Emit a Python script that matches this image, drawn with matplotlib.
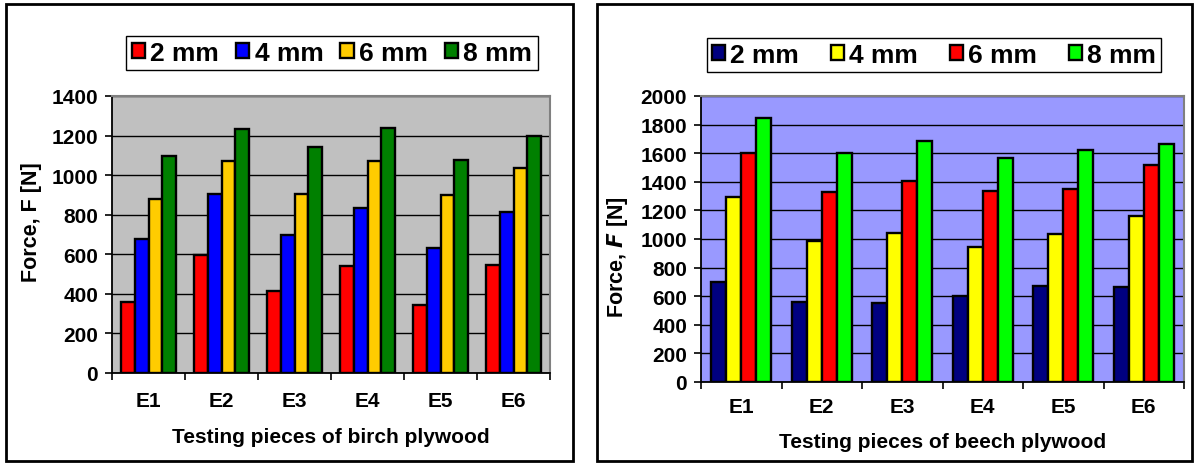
import matplotlib
matplotlib.use("Agg")
import matplotlib.pyplot as plt
from matplotlib.patches import Rectangle
import numpy as np

plt.rcParams['font.family'] = ['Liberation Sans', 'DejaVu Sans']
plt.rcParams['font.weight'] = 'bold'

pieces = ["E1", "E2", "E3", "E4", "E5", "E6"]
series_names = ["2 mm", "4 mm", "6 mm", "8 mm"]

# birch plywood (left)
birch_2 = [360, 597, 415, 540, 345, 545]
birch_4 = [676, 903, 700, 835, 630, 815]
birch_6 = [878, 1072, 905, 1070, 900, 1035]
birch_8 = [1098, 1235, 1140, 1240, 1075, 1200]

# beech plywood (right)
beech_2 = [697, 562, 553, 599, 671, 664]
beech_4 = [1294, 983, 1045, 944, 1037, 1161]
beech_6 = [1598, 1329, 1405, 1336, 1352, 1515]
beech_8 = [1847, 1598, 1683, 1566, 1620, 1667]

W, H = 1194, 464
fig = plt.figure(figsize=(W / 100, H / 100), dpi=100)

# panel frames
for x0, x1 in [(6, 573), (597, 1192)]:
    fig.patches.append(Rectangle((x0 / W, 1 - 462 / H), (x1 - x0) / W, (462 - 5) / H,
                                 transform=fig.transFigure, fill=False,
                                 edgecolor='black', linewidth=2))


def panel(rect, data, colors, bg, ymax, ylabel, xlabel, leg_center, colsp,
          ylab_xy, tickpad, xlabpad):
    ax = fig.add_axes([rect[0] / W, 1 - rect[3] / H, (rect[2] - rect[0]) / W, (rect[3] - rect[1]) / H])
    ax.set_facecolor(bg)
    x = np.arange(len(pieces))
    bw = 0.1875
    handles = []
    for i, (vals, c) in enumerate(zip(data, colors)):
        b = ax.bar(x + (i - 1.5) * bw, vals, bw, color=c, edgecolor='black',
                   linewidth=1.7, zorder=3, label=series_names[i])
        handles.append(b)
    ax.set_xlim(-0.5, len(pieces) - 0.5)
    ax.set_ylim(0, ymax)
    ax.set_yticks(np.arange(0, ymax + 1, 200))
    ax.yaxis.grid(True, color='black', linewidth=1.0, zorder=1)
    ax.set_axisbelow(True)
    ax.set_xticks(np.arange(-0.5, len(pieces)), labels=[])
    ax.set_xticks(x, labels=pieces, minor=True)
    ax.tick_params(axis='x', which='major', length=5, width=1.2, direction='out')
    ax.tick_params(axis='x', which='minor', length=0, pad=tickpad, labelsize=15)
    ax.tick_params(axis='y', length=5, width=1.2, labelsize=15, pad=5)
    for s in ['top', 'right']:
        ax.spines[s].set_color('#808080')
        ax.spines[s].set_linewidth(1.5)
    for s in ['left', 'bottom']:
        ax.spines[s].set_color('black')
        ax.spines[s].set_linewidth(1.3)
    ax.set_ylabel(ylabel, fontsize=15.5, fontweight='bold')
    ax.yaxis.set_label_coords(*ylab_xy)
    ax.set_xlabel(xlabel, fontsize=15, fontweight='bold', labelpad=xlabpad)
    leg = ax.legend(handles=handles, ncol=4, loc='center',
                    bbox_to_anchor=(leg_center[0] / W, 1 - leg_center[1] / H),
                    bbox_transform=fig.transFigure, fontsize=19, frameon=True,
                    fancybox=False, edgecolor='black', framealpha=1,
                    handlelength=0.5, handleheight=0.5, handletextpad=0.2,
                    columnspacing=colsp, borderpad=0.2)
    leg.get_frame().set_linewidth(1.0)
    for t in leg.get_texts():
        t.set_fontweight('bold')
    return ax


panel((112, 97, 550, 374), [birch_2, birch_4, birch_6, birch_8],
      ['#FF0000', '#0000FF', '#FFCC00', '#008000'], '#C0C0C0', 1400,
      'Force, F [N]', 'Testing pieces of birch plywood', (332, 54), 0.65,
      (-0.159, 0.55), 13, 12)
panel((701, 97, 1184, 383), [beech_2, beech_4, beech_6, beech_8],
      ['#000080', '#FFFF00', '#FF0000', '#00FF00'], '#9999FF', 2000,
      'Force, $\\mathbfit{F}$ [N]', 'Testing pieces of beech plywood', (934, 56), 1.2,
      (-0.148, 0.44), 11, 11.5)

fig.savefig("out.png", dpi=100)
